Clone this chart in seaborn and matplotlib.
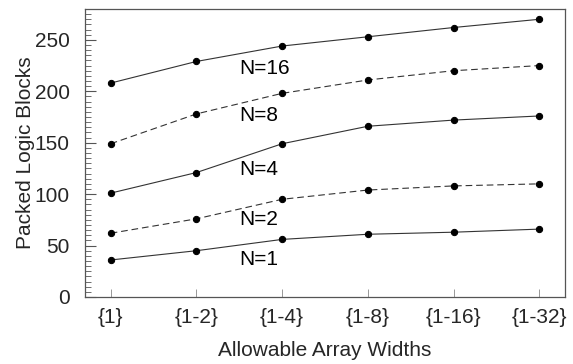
import matplotlib
matplotlib.use("Agg")
import matplotlib.pyplot as plt
import seaborn as sns
import pandas as pd
from matplotlib.ticker import MultipleLocator

categories = ["{1}", "{1-2}", "{1-4}", "{1-8}", "{1-16}", "{1-32}"]
n1 = [36, 45, 56, 61, 63, 66]
n2 = [62, 76, 95, 104, 108, 110]
n4 = [101, 121, 149, 166, 172, 176]
n8 = [149, 178, 198, 211, 220, 225]
n16 = [208, 229, 244, 253, 262, 270]
series_names = ["N=1", "N=2", "N=4", "N=8", "N=16"]
series_values = [n1, n2, n4, n8, n16]
label_y = [36, 75, 124, 176, 222]

sns.set_theme(style="white")
plt.rcParams["font.family"] = ["Liberation Sans", "DejaVu Sans"]

fig = plt.figure(figsize=(5.73, 3.64), dpi=100)
ax = fig.add_axes([85/573, 67/364, 480/573, 288/364])

styles = ["-", "--", "-", "--", "-"]
for name, vals, ls in zip(series_names, series_values, styles):
    df = pd.DataFrame({"x": categories, "y": vals})
    sns.lineplot(data=df, x="x", y="y", ax=ax, color="#333333", linewidth=0.8,
                 marker="o", markersize=4.5, markerfacecolor="black",
                 markeredgecolor="black", sort=False)
    if ls == "--":
        ax.lines[-1].set_dashes([6, 3.5])

for name, yv in zip(series_names, label_y):
    ax.text(1.5, yv, name, fontsize=15, ha="left", va="center", color="black")

ax.set_xlim(-0.3, 5.3)
ax.set_ylim(0, 280)
ax.yaxis.set_major_locator(MultipleLocator(50))
ax.yaxis.set_minor_locator(MultipleLocator(5))
ax.tick_params(axis="y", which="major", direction="in", length=8, width=0.8,
               color="#555555", labelsize=15, left=True, pad=11)
ax.tick_params(axis="y", which="minor", direction="in", length=4, width=0.6,
               color="#555555", left=True)
ax.tick_params(axis="x", which="major", direction="in", length=6, width=0.6,
               color="#888888", labelsize=15, bottom=True, pad=8)
ax.set_xlabel("Allowable Array Widths", fontsize=15, labelpad=10)
ax.set_ylabel("Packed Logic Blocks", fontsize=15, labelpad=0)
for s in ax.spines.values():
    s.set_color("#555555")
    s.set_linewidth(0.9)
    s.set_visible(True)

fig.savefig("out.png", dpi=100)
